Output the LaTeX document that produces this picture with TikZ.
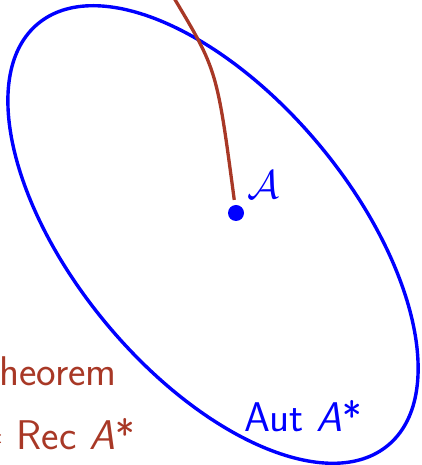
\documentclass[tikz,border=0pt]{standalone}
\usepackage{fontspec}
\definecolor{alertbrown}{RGB}{168,56,38}
\definecolor{setblue}{RGB}{0,0,255}
\newcommand{\bigcalA}{\scalebox{1.6077}{\fontsize{24.88}{30}\selectfont$\mathcal{A}$}}
\begin{document}
\begin{tikzpicture}[x=1pt,y=1pt,
  every node/.style={font=\sffamily\fontsize{41.5}{50}\selectfont, inner sep=0pt},
  bluetext/.style={text=setblue},
  browntext/.style={text=alertbrown},
  setline/.style={draw=setblue, line width=3.4pt},
  pathline/.style={draw=alertbrown, line width=3.3pt}]
\useasboundingbox (0,0) rectangle (421,465);
\clip (0,0) rectangle (421,465);
% ellipse
\draw[setline, rotate around={-50.3:(213,230.5)}] (213,230.5) ellipse (274 and 139);
% dot
\node[circle, fill=setblue, minimum size=16pt] (dot) at (236,252) {};
\node[bluetext, anchor=base west] (calA) at (247,266) {\bigcalA};
% curve
\coordinate (top) at (174,467);
\draw[pathline, shorten >=5pt] (top) .. controls (217,395) .. (dot);
% labels
\node[bluetext, anchor=base west] (aut) at (244,33) {Aut {\slshape A}*};
\node[browntext, anchor=base east] (thm) at (117,79) {Theorem};
\node[browntext, anchor=base east] (rec) at (135,15) {= Rec {\slshape A}*};
\end{tikzpicture}
\end{document}
